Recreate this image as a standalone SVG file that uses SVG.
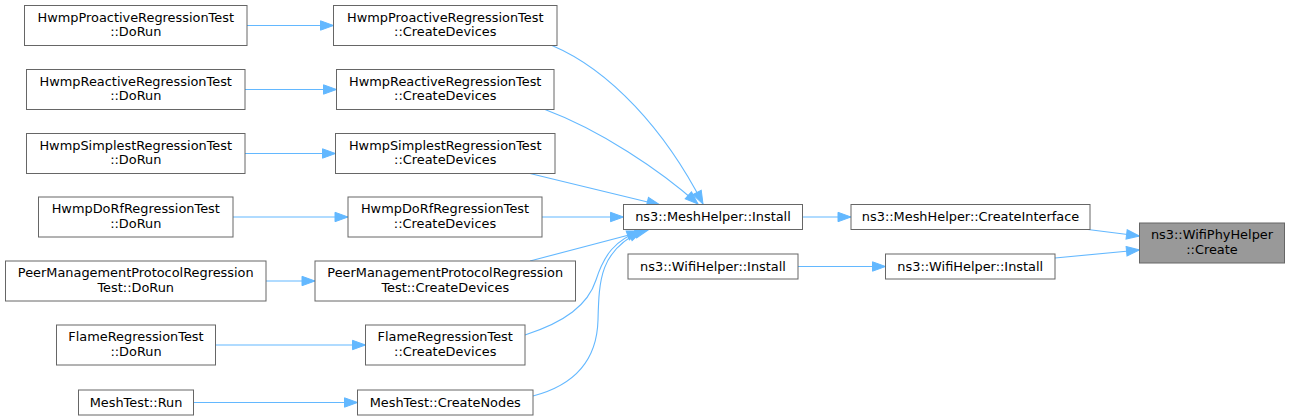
<svg xmlns="http://www.w3.org/2000/svg" width="1291" height="420" viewBox="0 0 1291 420">
<style>
.node rect{fill:#ffffff;stroke:#666666;stroke-width:1}
.node.hl rect{fill:#999999}
.node text{font-family:"DejaVu Sans","Liberation Sans",sans-serif;font-size:12.9px;fill:#000000;text-anchor:middle}
.edges path{fill:none;stroke:#63b8ff;stroke-width:1.1;marker-end:url(#ah)}
</style>
<defs>
<marker id="ah" markerUnits="userSpaceOnUse" markerWidth="14" markerHeight="10" refX="13" refY="4.7" orient="auto" overflow="visible">
<path d="M0,0 L13,4.7 L0,9.4 z" fill="#63b8ff" stroke="#63b8ff" stroke-width="1"/>
</marker>
</defs>
<rect width="1291" height="420" fill="#ffffff"/>
<g class="edges" id="edges">
<path d="M247,25.5 L333.5,25.5"/>
<path d="M245,89.5 L336.5,89.5"/>
<path d="M245,153.5 L335.5,153.5"/>
<path d="M233,217 L348,217"/>
<path d="M266,281 L315,281"/>
<path d="M215.5,345 L365.5,345"/>
<path d="M193.5,402.5 L357.5,402.5"/>
<path d="M552,45.5 C610,70 665,130 703,204"/>
<path d="M545,109.5 C600,130 660,170 698,204"/>
<path d="M530,173.5 L660,205"/>
<path d="M542,217 L623.5,217"/>
<path d="M530,261 L648,230"/>
<path d="M525,335 C565,322 588,305 596,280 C604,255 615,240 640,231"/>
<path d="M533,396 C575,385 597,360 598,320 C599,280 600,250 642,231"/>
<path d="M802.5,217 L851,217"/>
<path d="M798,266.5 L885.5,266.5"/>
<path d="M1088,229.5 L1139.5,236"/>
<path d="M1055,258 L1139.5,250"/>
</g>
<g class="node" id="proactive_dorun"><rect x="24.5" y="5.5" width="222.5" height="40"/><text x="135.75" y="21.8">HwmpProactiveRegressionTest</text><text x="135.75" y="36.2">::DoRun</text></g>
<g class="node" id="reactive_dorun"><rect x="26.5" y="69.5" width="218.5" height="40"/><text x="135.75" y="85.8">HwmpReactiveRegressionTest</text><text x="135.75" y="100.2">::DoRun</text></g>
<g class="node" id="simplest_dorun"><rect x="26.5" y="133.5" width="218.5" height="40"/><text x="135.75" y="149.8">HwmpSimplestRegressionTest</text><text x="135.75" y="164.2">::DoRun</text></g>
<g class="node" id="dorf_dorun"><rect x="38.5" y="197" width="194.5" height="40"/><text x="135.75" y="213.3">HwmpDoRfRegressionTest</text><text x="135.75" y="227.7">::DoRun</text></g>
<g class="node" id="peer_dorun"><rect x="5.5" y="261" width="260.5" height="40"/><text x="135.75" y="277.3">PeerManagementProtocolRegression</text><text x="135.75" y="291.7">Test::DoRun</text></g>
<g class="node" id="flame_dorun"><rect x="56.5" y="325" width="159" height="40"/><text x="136" y="341.3">FlameRegressionTest</text><text x="136" y="355.7">::DoRun</text></g>
<g class="node" id="meshtest_run"><rect x="78.5" y="390" width="115" height="25"/><text x="136" y="406.8">MeshTest::Run</text></g>
<g class="node" id="proactive_create"><rect x="333.5" y="5.5" width="223.5" height="40"/><text x="445.25" y="21.8">HwmpProactiveRegressionTest</text><text x="445.25" y="36.2">::CreateDevices</text></g>
<g class="node" id="reactive_create"><rect x="336.5" y="69.5" width="217.5" height="40"/><text x="445.25" y="85.8">HwmpReactiveRegressionTest</text><text x="445.25" y="100.2">::CreateDevices</text></g>
<g class="node" id="simplest_create"><rect x="335.5" y="133.5" width="219.5" height="40"/><text x="445.25" y="149.8">HwmpSimplestRegressionTest</text><text x="445.25" y="164.2">::CreateDevices</text></g>
<g class="node" id="dorf_create"><rect x="348" y="197" width="194" height="40"/><text x="445" y="213.3">HwmpDoRfRegressionTest</text><text x="445" y="227.7">::CreateDevices</text></g>
<g class="node" id="peer_create"><rect x="315" y="261" width="260.5" height="40"/><text x="445.25" y="277.3">PeerManagementProtocolRegression</text><text x="445.25" y="291.7">Test::CreateDevices</text></g>
<g class="node" id="flame_create"><rect x="365.5" y="325" width="159.5" height="40"/><text x="445.25" y="341.3">FlameRegressionTest</text><text x="445.25" y="355.7">::CreateDevices</text></g>
<g class="node" id="meshtest_createnodes"><rect x="357.5" y="390" width="175.5" height="25"/><text x="445.25" y="406.8">MeshTest::CreateNodes</text></g>
<g class="node" id="meshhelper_install"><rect x="623.5" y="204.5" width="179" height="25"/><text x="713" y="221.3">ns3::MeshHelper::Install</text></g>
<g class="node" id="wifihelper_install_a"><rect x="628" y="254" width="170" height="25"/><text x="713" y="270.8">ns3::WifiHelper::Install</text></g>
<g class="node" id="meshhelper_createinterface"><rect x="851" y="204.5" width="239" height="25"/><text x="970.5" y="221.3">ns3::MeshHelper::CreateInterface</text></g>
<g class="node" id="wifihelper_install_b"><rect x="885.5" y="254" width="169.5" height="25"/><text x="970.25" y="270.8">ns3::WifiHelper::Install</text></g>
<g class="node hl" id="wifiphyhelper_create"><rect x="1139.5" y="223" width="145" height="40"/><text x="1212" y="239.3">ns3::WifiPhyHelper</text><text x="1212" y="253.7">::Create</text></g>
</svg>
